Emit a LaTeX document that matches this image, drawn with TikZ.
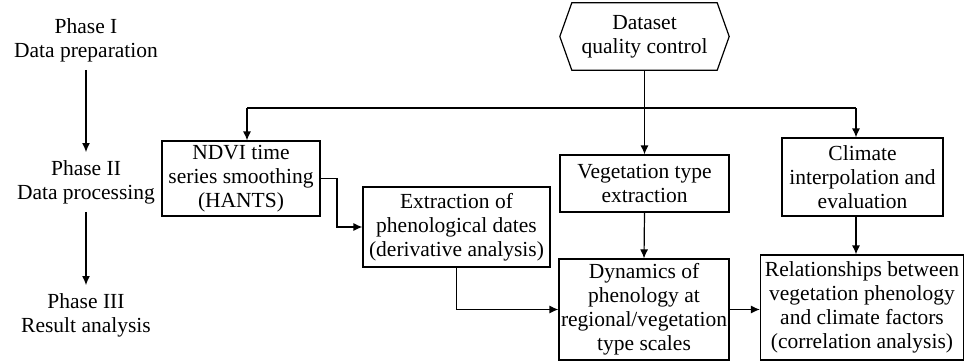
\documentclass[tikz,border=0pt]{standalone}
\usepackage{fontspec}
\setmainfont{Liberation Serif}
\usetikzlibrary{arrows.meta}
\begin{document}
\begin{tikzpicture}[x=1pt,y=-1pt,
  every node/.style={font=\fontsize{21.5}{24}\selectfont, align=center},
  box/.style={draw, line width=1.2pt, inner sep=0pt},
  lbl/.style={inner sep=8pt},
  conn/.style={line width=1.2pt},
  arr/.style={line width=1.2pt, -{Latex[length=9pt,width=8pt]}}]
\useasboundingbox (0,0) rectangle (965,361);
% phase labels
\node[lbl] (p1) at (86,40) {Phase I\\Data preparation};
\node[lbl] (p2) at (86,182) {Phase II\\Data processing};
\node[lbl] (p3) at (86,315) {Phase III\\Result analysis};
\draw[arr] (p1.south) -- (p2.north);
\draw[arr] (p2.south) -- (p3.north);
% hexagon
\node[minimum width=169pt, minimum height=67pt, inner sep=0pt] (hex) at (644.5,36.5) {Dataset\\quality control};
\draw[line width=1.2pt] (hex.west) -- ([xshift=12pt]hex.north west) -- ([xshift=-12pt]hex.north east) -- (hex.east) -- ([xshift=-12pt]hex.south east) -- ([xshift=12pt]hex.south west) -- cycle;
% boxes
\node[box, minimum width=158pt, minimum height=75pt] (ndvi) at (241,178.5) {NDVI time\\series smoothing\\(HANTS)};
\node[box, minimum width=187pt, minimum height=80pt] (extr) at (456.5,227) {Extraction of\\phenological dates\\(derivative analysis)};
\node[box, minimum width=169pt, minimum height=57pt] (veg) at (644.5,183.5) {Vegetation type\\extraction};
\node[box, minimum width=161pt, minimum height=78pt] (clim) at (862.5,177) {Climate\\interpolation and\\evaluation};
\node[box, minimum width=170pt, minimum height=101pt] (dyn) at (644,309.5) {Dynamics of\\phenology at\\regional/vegetation\\type scales};
\node[box, minimum width=203pt, minimum height=105pt] (rel) at (862,307.5) {Relationships between\\vegetation phenology\\and climate factors\\(correlation analysis)};
% connectors
\coordinate (busL) at (247,108);
\coordinate (busR) at (856,108);
\coordinate (k1) at (337,227);
\draw[conn] (busL) -- (busR);
\draw[arr] (busL) -- (busL |- ndvi.north);
\draw[arr] (busR) -- (busR |- clim.north);
\draw[arr] (hex.south) -- (veg.north);
\draw[arr] (ndvi.east) -| (k1) -- (extr.west);
\draw[arr] (extr.south) |- (dyn.west);
\draw[arr] (veg.south) -- (dyn.north);
\draw[arr] (dyn.east) -- (dyn.east -| rel.west);
\draw[arr] (busR |- clim.south) -- (busR |- rel.north);
\end{tikzpicture}
\end{document}
